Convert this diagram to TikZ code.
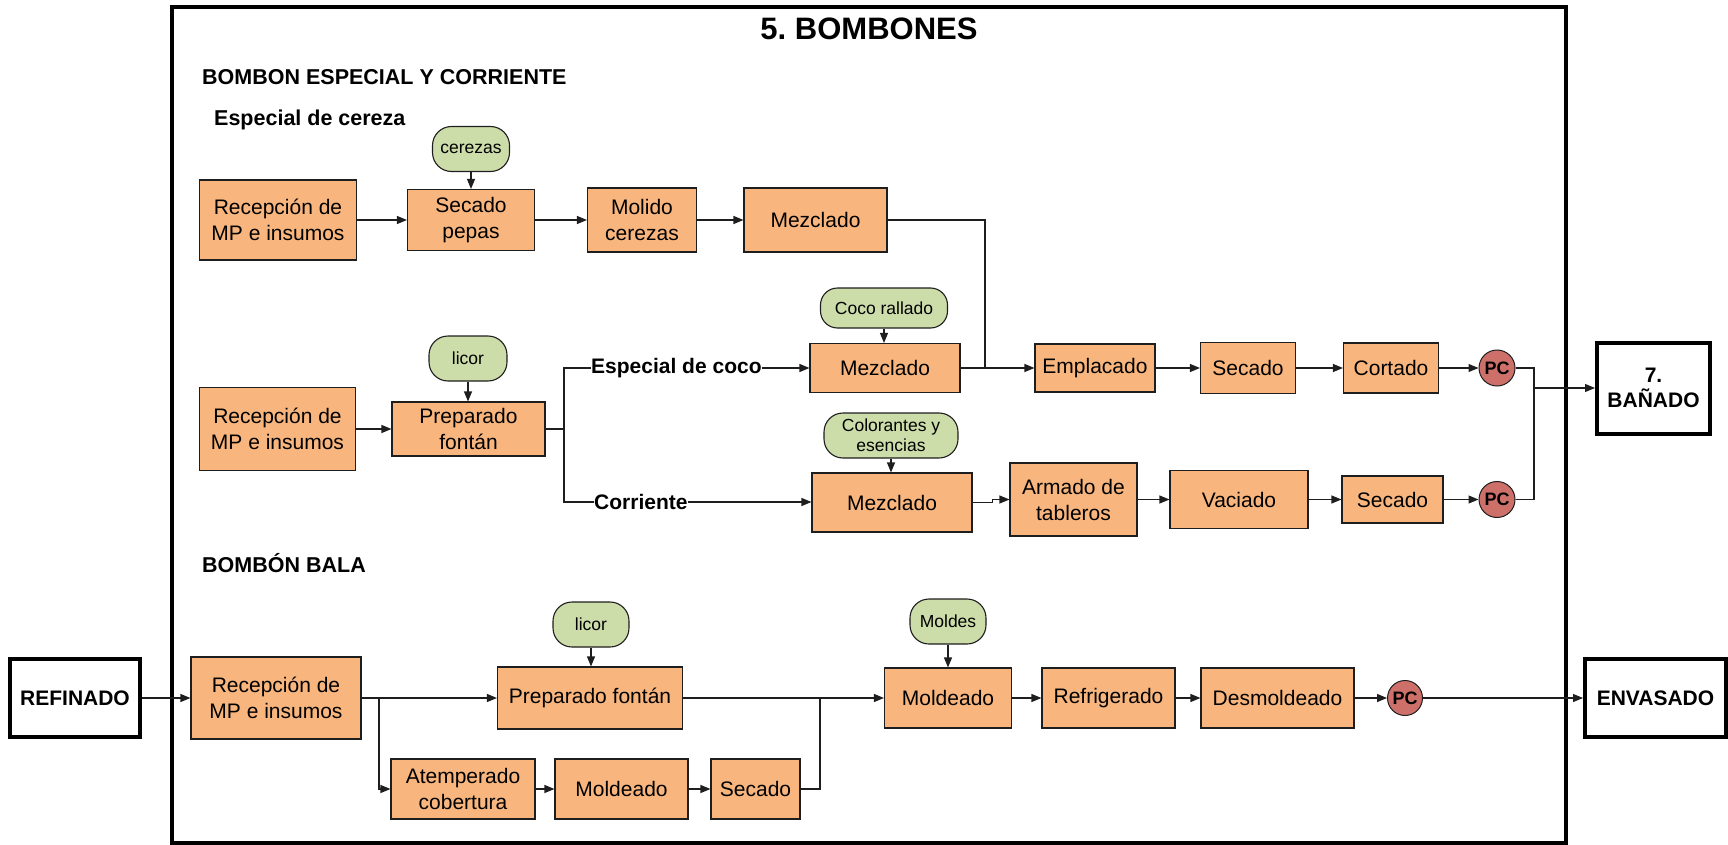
\documentclass[tikz,border=0pt]{standalone}
\usepackage{fontspec}
\setmainfont{Liberation Sans}
\usetikzlibrary{arrows.meta}
\frenchspacing

\definecolor{procfill}{RGB}{248,182,126}
\definecolor{inputfill}{RGB}{205,221,170}
\definecolor{pcfill}{RGB}{206,112,106}
\definecolor{edge}{RGB}{30,30,30}

\tikzset{
  proc/.style={draw=edge, line width=1.1pt, fill=procfill, inner sep=0pt, align=center,
    font=\fontsize{21}{26}\selectfont},
  supply/.style={draw=edge, line width=1.1pt, fill=inputfill, inner sep=0pt, align=center,
    font=\fontsize{17.5}{20}\selectfont, rounded corners=19pt},
  pc/.style={circle, draw=edge, line width=1pt, fill=pcfill, inner sep=0pt, minimum size=36pt,
    font=\bfseries\fontsize{18}{20}\selectfont},
  ext/.style={draw=black, line width=4pt, fill=white, inner sep=0pt, align=center,
    font=\bfseries\fontsize{21}{25}\selectfont},
  heading/.style={anchor=base west, inner sep=0pt, font=\bfseries\fontsize{21.5}{25}\selectfont},
  branchlbl/.style={anchor=west, inner sep=0pt, font=\bfseries\fontsize{21}{25}\selectfont},
  flow/.style={draw=edge, line width=1.1pt, -{Triangle[length=10pt,width=8pt]}},
  link/.style={draw=edge, line width=1.1pt},
}

\begin{document}
\begin{tikzpicture}[x=1pt, y=-1pt]
\useasboundingbox (0,0) rectangle (1728,845);

% section frame and titles
\draw[line width=3.5pt] (172,7) rectangle (1566,843);
\node[font=\bfseries\fontsize{31}{36}\selectfont, inner sep=0pt] (title) at (869,29) {5. BOMBONES};
\node[heading] (h1) at (202,85) {BOMBON ESPECIAL Y CORRIENTE};
\node[heading] (h2) at (214,126) {Especial de cereza};
\node[heading] (h3) at (202,572) {BOMBÓN BALA};

% ---- cherry line
\node[proc, minimum width=157pt, minimum height=80pt] (rec1) at (278,220) {Recepción de\\MP e insumos};
\node[supply, minimum width=77pt, minimum height=45pt] (cerezas) at (471,149) {cerezas};
\node[proc, minimum width=127pt, minimum height=61pt] (sec1) at (471,220) {Secado\\pepas};
\node[proc, minimum width=109pt, minimum height=64pt] (molido) at (642,220) {Molido\\cerezas};
\node[proc, minimum width=143pt, minimum height=64pt] (mez1) at (815.5,220) {Mezclado};

% ---- coconut and common lines
\node[proc, minimum width=156pt, minimum height=83pt] (rec2) at (277.5,429) {Recepción de\\MP e insumos};
\node[supply, minimum width=78pt, minimum height=45pt] (licor1) at (468,358.5) {licor};
\node[proc, minimum width=153pt, minimum height=54pt] (prep1) at (468.5,429) {Preparado\\fontán};
\node[branchlbl] (lblcoco) at (591,368) {Especial de coco};
\node[branchlbl] (lblcorr) at (594,502) {Corriente};
\node[supply, minimum width=127pt, minimum height=40pt, rounded corners=17pt] (coco) at (884,308) {Coco rallado};
\node[proc, minimum width=150pt, minimum height=49pt] (mez2) at (885,368) {Mezclado};
\node[proc, minimum width=120pt, minimum height=48pt] (empl) at (1095,368) {Emplacado};
\node[proc, minimum width=95pt, minimum height=51pt] (sec2) at (1248,368) {Secado};
\node[proc, minimum width=95pt, minimum height=50pt] (cort) at (1391,368) {Cortado};
\node[pc] (pc1) at (1497,368) {PC};
\node[ext, minimum width=113pt, minimum height=91pt] (banado) at (1653.5,388) {7.\\BAÑADO};

\node[supply, minimum width=134pt, minimum height=45pt] (color) at (891,435.5) {Colorantes y\\esencias};
\node[proc, minimum width=160pt, minimum height=59pt] (mez3) at (892,502.5) {Mezclado};
\node[proc, minimum width=127pt, minimum height=73pt] (armado) at (1073.5,499.5) {Armado de\\tableros};
\node[proc, minimum width=138pt, minimum height=58pt] (vaciado) at (1239,499.5) {Vaciado};
\node[proc, minimum width=101pt, minimum height=47pt] (sec3) at (1392.5,499.5) {Secado};
\node[pc] (pc2) at (1497,499.5) {PC};

% ---- bullet bonbon line
\node[ext, minimum width=130pt, minimum height=78pt] (refinado) at (75,698) {REFINADO};
\node[proc, minimum width=170pt, minimum height=82pt] (rec3) at (276,698) {Recepción de\\MP e insumos};
\node[supply, minimum width=76pt, minimum height=45pt] (licor2) at (591,624.5) {licor};
\node[proc, minimum width=185pt, minimum height=62pt] (prep2) at (590,698) {Preparado fontán};
\node[proc, minimum width=144pt, minimum height=60pt] (atemp) at (463,789) {Atemperado\\cobertura};
\node[proc, minimum width=133pt, minimum height=60pt] (mold1) at (621.5,789) {Moldeado};
\node[proc, minimum width=89pt, minimum height=60pt] (sec4) at (755.5,789) {Secado};
\node[supply, minimum width=76pt, minimum height=45pt] (moldes) at (948,621.5) {Moldes};
\node[proc, minimum width=127pt, minimum height=60pt] (mold2) at (948,698) {Moldeado};
\node[proc, minimum width=133pt, minimum height=60pt] (refri) at (1108.5,698) {Refrigerado};
\node[proc, minimum width=153pt, minimum height=60pt] (desm) at (1277.5,698) {Desmoldeado};
\node[pc, minimum size=35pt] (pc3) at (1405,698) {PC};
\node[ext, minimum width=141pt, minimum height=78pt] (envasado) at (1655.5,698) {ENVASADO};

% junction points of the connectors
\coordinate (j1) at (985,368);
\coordinate (b1) at (564,429);
\coordinate (j2) at (1534,388);
\coordinate (b2) at (379,698);
\coordinate (j3) at (820,698);

% ---- connectors, cherry line
\draw[flow] (rec1.east) -- (rec1.east -| sec1.west);
\draw[flow] (cerezas.south) -- (cerezas.south |- sec1.north);
\draw[flow] (sec1.east) -- (sec1.east -| molido.west);
\draw[flow] (molido.east) -- (molido.east -| mez1.west);
\draw[link] (mez1.east) -| (j1);

% ---- connectors, coconut and common lines
\draw[flow] (licor1.south) -- (licor1.south |- prep1.north);
\draw[flow] (rec2.east) -- (rec2.east -| prep1.west);
\draw[link] (prep1.east) -- (b1);
\draw[link] (lblcoco.west) -| (b1) |- (lblcorr.west);
\draw[flow] (lblcoco.east) -- (lblcoco.east -| mez2.west);
\draw[flow] (coco.south) -- (coco.south |- mez2.north);
\draw[flow] (mez2.east) -- (mez2.east -| empl.west);
\draw[flow] (empl.east) -- (empl.east -| sec2.west);
\draw[flow] (sec2.east) -- (sec2.east -| cort.west);
\draw[flow] (cort.east) -- (cort.east -| pc1.west);
\draw[flow] (lblcorr.east) -- (lblcorr.east -| mez3.west);
\draw[flow] (color.south) -- (color.south |- mez3.north);
\draw[flow] (mez3.east) -- ++(20,0) |- (armado.west);
\draw[flow] (armado.east) -- (armado.east -| vaciado.west);
\draw[flow] (vaciado.east) -- (vaciado.east -| sec3.west);
\draw[flow] (sec3.east) -- (sec3.east -| pc2.west);
\draw[link] (pc1.east) -| (j2);
\draw[link] (pc2.east) -| (j2);
\draw[flow] (j2) -- (j2 -| banado.west);

% ---- connectors, bullet bonbon line
\draw[flow] (refinado.east) -- (refinado.east -| rec3.west);
\draw[flow] (rec3.east) -- (rec3.east -| prep2.west);
\draw[flow] (b2) |- (atemp.west);
\draw[flow] (licor2.south) -- (licor2.south |- prep2.north);
\draw[flow] (atemp.east) -- (atemp.east -| mold1.west);
\draw[flow] (mold1.east) -- (mold1.east -| sec4.west);
\draw[link] (sec4.east) -| (j3);
\draw[flow] (prep2.east) -- (prep2.east -| mold2.west);
\draw[flow] (moldes.south) -- (moldes.south |- mold2.north);
\draw[flow] (mold2.east) -- (mold2.east -| refri.west);
\draw[flow] (refri.east) -- (refri.east -| desm.west);
\draw[flow] (desm.east) -- (desm.east -| pc3.west);
\draw[flow] (pc3.east) -- (pc3.east -| envasado.west);
\end{tikzpicture}
\end{document}
